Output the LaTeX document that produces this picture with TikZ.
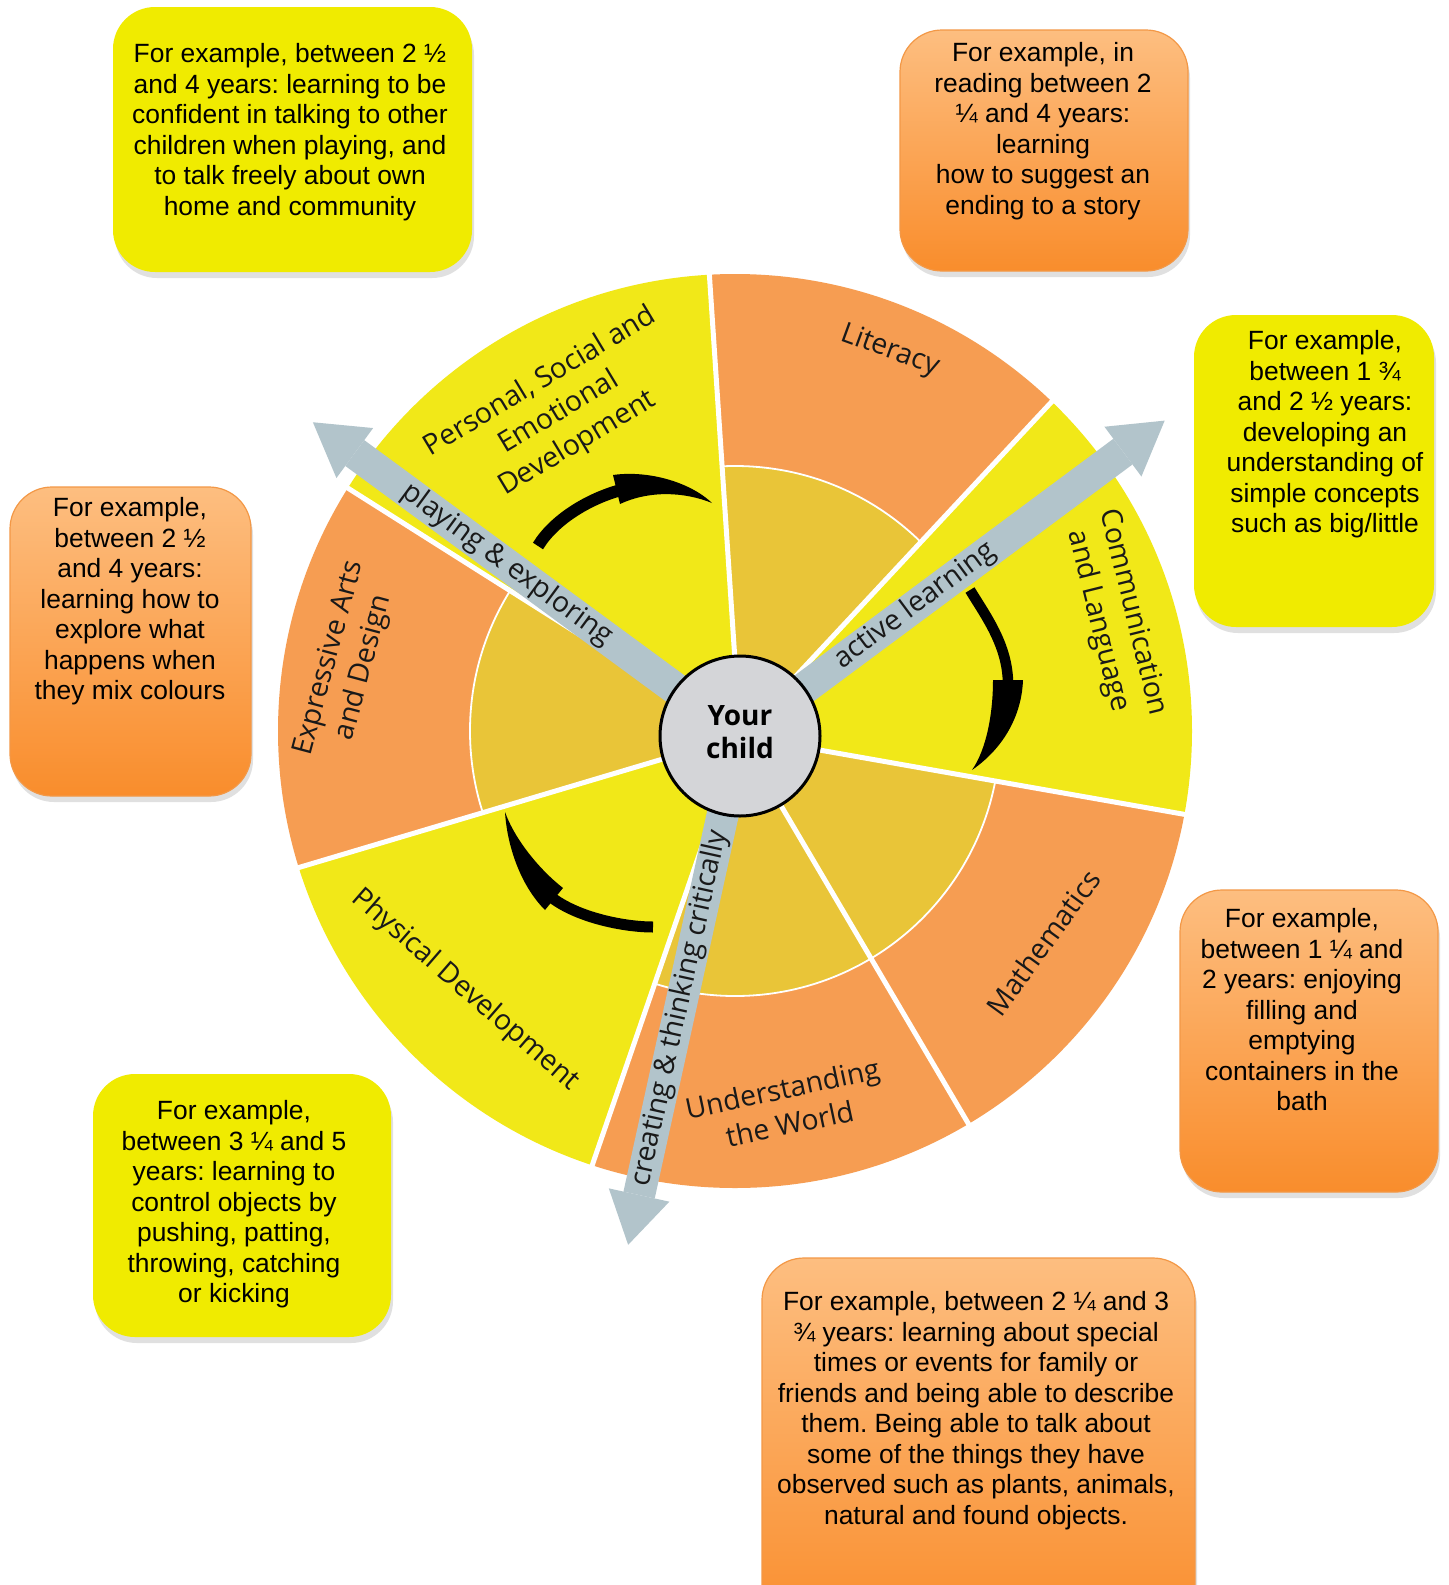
\documentclass[tikz,border=0pt]{standalone}
\usepackage{fontspec}
\setmainfont{Liberation Sans}
\newfontfamily\wheelfont{Open Sans}
\usetikzlibrary{shadows}
\frenchspacing
\definecolor{wyellow}{RGB}{241,232,24}
\definecolor{worange}{RGB}{246,157,82}
\definecolor{wgold}{RGB}{233,197,56}
\definecolor{agray}{RGB}{178,196,203}
\definecolor{cgray}{RGB}{212,213,216}
\definecolor{byellow}{RGB}{240,235,0}
\definecolor{botop}{RGB}{253,190,128}
\definecolor{bobot}{RGB}{249,141,44}
\definecolor{bordero}{RGB}{243,152,70}
\definecolor{wtext}{RGB}{25,25,25}
\newcommand\wsector[4]{%
  \begin{scope}
    \clip (C) -- ++(#1:700) arc[start angle=#1,end angle=#2,radius=700] -- cycle;
    \fill[#3] (O) circle[radius=457];
    \ifnum#4=1
      \fill[wgold] (O) circle[radius=265];
      \draw[white,line width=0.9pt] (O) circle[radius=265];
    \fi
  \end{scope}}
\begin{document}
\begin{tikzpicture}[x=0.5pt,y=0.5pt,
  shadowed/.style={drop shadow={shadow xshift=1pt,shadow yshift=-3pt,opacity=0.2,fill=black!60}},
  ybox/.style={fill=byellow,rounded corners=21pt,shadowed},
  obox/.style={top color=botop,bottom color=bobot,draw=bordero,line width=0.6pt,rounded corners=21pt,shadowed},
  boxtext/.style={anchor=north,align=center,inner sep=0pt,font=\fontsize{13.2}{15.25}\selectfont},
  wlabel/.style={font=\wheelfont\fontsize{14.2}{18}\selectfont,text=wtext,align=center,inner sep=0pt},
  sep/.style={white,line width=2.5pt},
  garrow/.style={fill=agray},
  curvebody/.style={draw=black,line width=#1,line cap=butt},
  curvehead/.style={fill=black}]
\useasboundingbox (0,0) rectangle (1448,-1585);
\clip (0,0) rectangle (1448,-1585);
\fill[white] (0,0) rectangle (1448,-1585);
\coordinate (C) at (740,-736);
\coordinate (O) at (735,-731);
% wheel sectors
\wsector{47}{93.8}{worange}{1}
\wsector{93.8}{147.7}{wyellow}{0}
\wsector{147.7}{196.6}{worange}{1}
\wsector{196.6}{251}{wyellow}{0}
\wsector{251}{300.5}{worange}{1}
\wsector{300.5}{350}{worange}{1}
\wsector{350}{407}{wyellow}{0}
% separators
\foreach \a in {47,93.8,147.7,196.6,251,300.5,350}
  \draw[sep] (C) -- ++(\a:468);
% grey arrows with labels
\begin{scope}[shift={(C)},rotate=143.7]
  \fill[garrow] (0,-16) rectangle (478,16);
  \fill[garrow] (530,0) -- (478,31) -- (478,-31) -- cycle;
  \node[wlabel,rotate=180,transform shape] (pe) at (289,0) {playing \& exploring};
\end{scope}
\begin{scope}[shift={(C)},rotate=36.6]
  \fill[garrow] (0,-16) rectangle (477,16);
  \fill[garrow] (529,0) -- (477,31) -- (477,-31) -- cycle;
  \node[wlabel,transform shape] (al) at (218,0) {active learning};
\end{scope}
\begin{scope}[shift={(C)},rotate=257.6]
  \fill[garrow] (0,-16) rectangle (470,16);
  \fill[garrow] (521,0) -- (470,31) -- (470,-31) -- cycle;
  \node[wlabel,rotate=180,transform shape] (ct) at (279,0) {creating \& thinking critically};
\end{scope}
% centre
\node[circle,fill=cgray,draw=black,line width=1.5pt,minimum size=80pt,inner sep=0pt] (child) at (C) {};
\node[align=center,inner sep=0pt,font=\wheelfont\bfseries\fontsize{14}{16.5}\selectfont] (childtxt) at (740,-732) {Your\\child};
% wheel labels
\node[wlabel,rotate=31] (psed) at (559,-413) {Personal, Social and\\Emotional\\Development};
\node[wlabel,rotate=-20] (lit) at (890,-351) {Literacy};
\node[wlabel,rotate=-76] (comm) at (1115,-617) {Communication\\and Language};
\node[wlabel,rotate=75] (ead) at (347,-663) {Expressive Arts\\and Design};
\node[wlabel,rotate=-41] (phys) at (465,-990) {Physical Development};
\node[wlabel,rotate=12] (utw) at (786,-1106) {Understanding\\the World};
\node[wlabel,rotate=54] (math) at (1043,-943) {Mathematics};
% black curved arrows
\draw[curvebody=6pt] (538,-546) .. controls (553.5,-520.3) and (588,-498.8) .. (621,-490);
\fill[curvehead] (613,-475) .. controls (648,-470) and (690,-482) .. (712,-503) .. controls (685,-492) and (650,-490) .. (620,-504) -- cycle;
\draw[curvebody=5.25pt] (970,-590) .. controls (985,-615) and (1008,-645) .. (1008,-684);
\fill[curvehead] (1023,-680) .. controls (1022,-710) and (1008,-745) .. (972,-770) .. controls (986,-750) and (993,-715) .. (993,-680) -- cycle;
\draw[curvebody=5.5pt] (653,-927) .. controls (625,-927) and (578,-918) .. (551,-897);
\fill[curvehead] (563,-888) .. controls (540,-870) and (515,-840) .. (505,-812) .. controls (507,-845) and (520,-885) .. (545,-910) -- cycle;
% example boxes
\path[ybox] (113,-7) rectangle (472,-272);
\node[boxtext] (t1) at (290,-43) {For example, between 2 ½\\and 4 years: learning to be\\confident in talking to other\\children when playing, and\\to talk freely about own\\home and community};
\path[obox] (900,-30) rectangle (1188,-271);
\node[boxtext] (t2) at (1043,-42) {For example, in\\reading between 2\\¼ and 4 years:\\learning\\how to suggest an\\ending to a story};
\path[ybox] (1194,-315) rectangle (1434,-627);
\node[boxtext] (t3) at (1325,-330) {For example,\\between 1 ¾\\and 2 ½ years:\\developing an\\understanding of\\simple concepts\\such as big/little};
\path[obox] (10,-487) rectangle (251,-796);
\node[boxtext] (t4) at (130,-497) {For example,\\between 2 ½\\and 4 years:\\learning how to\\explore what\\happens when\\they mix colours};
\path[obox] (1180,-890) rectangle (1438,-1192);
\node[boxtext] (t5) at (1302,-908) {For example,\\between 1 ¼ and\\2 years: enjoying\\filling and\\emptying\\containers in the\\bath};
\path[ybox] (93,-1074) rectangle (391,-1337);
\node[boxtext] (t6) at (234,-1100) {For example,\\between 3 ¼ and 5\\years: learning to\\control objects by\\pushing, patting,\\throwing, catching\\or kicking};
\path[obox] (762,-1258) rectangle (1195,-1640);
\node[boxtext] (t7) at (976,-1291) {For example, between 2 ¼ and 3\\¾ years: learning about special\\times or events for family or\\friends and being able to describe\\them. Being able to talk about\\some of the things they have\\observed such as plants, animals,\\natural and found objects.};
\end{tikzpicture}
\end{document}
